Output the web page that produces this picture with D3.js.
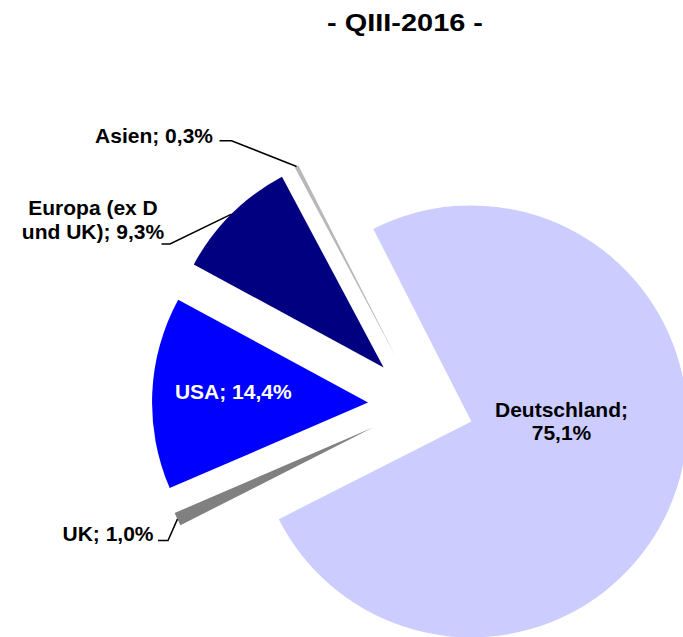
<!DOCTYPE html>
<html><head><meta charset="utf-8">
<script src="https://cdn.jsdelivr.net/npm/d3@7"></script>
<style>
html,body{margin:0;padding:0;background:#fff;}
svg{display:block;}
text{font-family:"Liberation Sans",Arial,sans-serif;font-weight:bold;}
</style></head>
<body>
<script>
const title = "- QIII-2016 -";
const categories = ["Deutschland", "UK", "USA", "Europa (ex D und UK)", "Asien"];
const values = [75.1, 1.0, 14.4, 9.3, 0.3];
const valueLabels = ["75,1%", "1,0%", "14,4%", "9,3%", "0,3%"];
const colors = ["#CCCCFF", "#808080", "#0000FF", "#000080", "#B8B8B8"];

const W = 683, H = 637;
const cx = 421, cy = 405, R = 216, explode = 53;
const startDeg = -27;

const svg = d3.select("body").append("svg").attr("width", W).attr("height", H);

svg.append("text").attr("x", 405).attr("y", 31).attr("text-anchor", "middle")
  .attr("font-size", 23).attr("textLength", 156).attr("lengthAdjust", "spacingAndGlyphs")
  .text(title);

const pie = d3.pie().sort(null).value(d => d)
  .startAngle(startDeg * Math.PI / 180).endAngle((startDeg + 360) * Math.PI / 180);
const arcs = pie(values);
const arc = d3.arc().innerRadius(0).outerRadius(R);

function offset(a) {
  const m = (a.startAngle + a.endAngle) / 2;
  return [explode * Math.sin(m), -explode * Math.cos(m)];
}
function outerMid(a) {
  const m = (a.startAngle + a.endAngle) / 2;
  const o = offset(a);
  return [cx + o[0] + R * Math.sin(m), cy + o[1] - R * Math.cos(m)];
}

const g = svg.append("g");
g.selectAll("path.slice").data(arcs).enter().append("path")
  .attr("class", "slice")
  .attr("transform", d => { const o = offset(d); return `translate(${cx + o[0]},${cy + o[1]})`; })
  .attr("d", arc)
  .attr("fill", (d, i) => colors[i]);

// label layout (index -> placement)
const layout = {
  0: {x: 561.5, y: 416.7, anchor: "middle", fill: "#000", lines: [categories[0] + ";", valueLabels[0]]},
  1: {x: 153.5, y: 540.5, anchor: "end", fill: "#000", lines: [categories[1] + "; " + valueLabels[1]], leader: [158, 168]},
  2: {x: 233.3, y: 399.3, anchor: "middle", fill: "#fff", lines: [categories[2] + "; " + valueLabels[2]]},
  3: {x: 93, y: 215, anchor: "middle", fill: "#000", lines: ["Europa (ex D", "und UK); " + valueLabels[3]], leader: [161.5, 170], leaderY: 244},
  4: {x: 213, y: 143, anchor: "end", fill: "#000", lines: [categories[4] + "; " + valueLabels[4]], leader: [219.5, 231.5], leaderY: 140.7}
};

arcs.forEach((a, i) => {
  const L = layout[i];
  const t = svg.append("text").attr("text-anchor", L.anchor).attr("fill", L.fill).attr("font-size", 21);
  L.lines.forEach((ln, k) => {
    t.append("tspan").attr("x", L.x).attr("y", L.y + k * 23.5).text(ln);
  });
  if (L.leader) {
    const ly = L.leaderY !== undefined ? L.leaderY : L.y;
    const p = outerMid(a);
    svg.append("path")
      .attr("d", d3.line()([[L.leader[0], ly], [L.leader[1], ly], p]))
      .attr("fill", "none").attr("stroke", "#000").attr("stroke-width", 1.5);
  }
});
</script>
</body></html>
